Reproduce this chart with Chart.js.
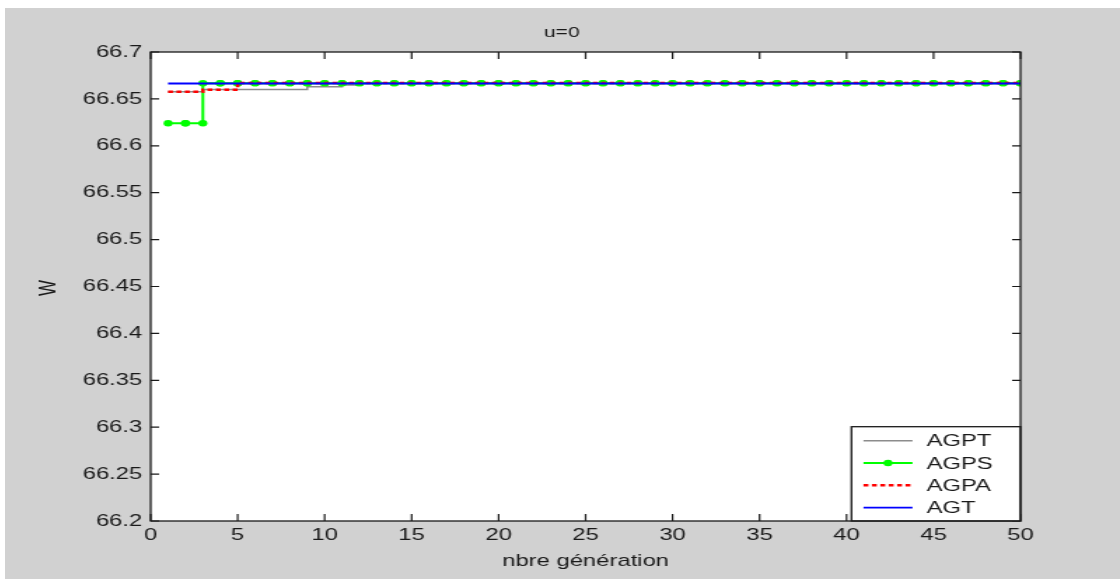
<!DOCTYPE html>
<html>
<head>
<meta charset="utf-8">
<title>u=0</title>
<script src="https://cdn.jsdelivr.net/npm/chart.js@4"></script>
<style>
  body { margin: 0; background: #fff; }
  #frame { position: absolute; left: 5px; top: 8px; width: 1115px; height: 571px; background: #d1d1d1; overflow: hidden; }
  /* the figure is drawn narrow and stretched sideways, like the exported bitmap */
  #stretch { width: 796px; height: 571px; transform: scaleX(1.4007); transform-origin: 0 0; }
</style>
</head>
<body>
<div id="frame"><div id="stretch"><canvas id="wChart"></canvas></div></div>
<script>
// generations 1..50
const generations = [1, 2, 3, 4, 5, 6, 7, 8, 9, 10, 11, 12, 13, 14, 15, 16, 17, 18, 19, 20,
  21, 22, 23, 24, 25, 26, 27, 28, 29, 30, 31, 32, 33, 34, 35, 36, 37, 38, 39, 40,
  41, 42, 43, 44, 45, 46, 47, 48, 49, 50];

// best W per generation for each algorithm
const agpt = [66.6577, 66.6577, 66.6600, 66.6600, 66.6600, 66.6600, 66.6600, 66.6600, 66.6630, 66.6630,
  66.6648, 66.6666, 66.6666, 66.6666, 66.6666, 66.6666, 66.6666, 66.6666, 66.6666, 66.6666,
  66.6666, 66.6666, 66.6666, 66.6666, 66.6666, 66.6666, 66.6666, 66.6666, 66.6666, 66.6666,
  66.6666, 66.6666, 66.6666, 66.6666, 66.6666, 66.6666, 66.6666, 66.6666, 66.6666, 66.6666,
  66.6666, 66.6666, 66.6666, 66.6666, 66.6666, 66.6666, 66.6666, 66.6666, 66.6666, 66.6666];
const agps = [66.6240, 66.6240, 66.6667, 66.6667, 66.6668, 66.6668, 66.6668, 66.6668, 66.6668, 66.6668,
  66.6668, 66.6668, 66.6668, 66.6668, 66.6668, 66.6668, 66.6668, 66.6668, 66.6668, 66.6668,
  66.6668, 66.6668, 66.6668, 66.6668, 66.6668, 66.6668, 66.6668, 66.6668, 66.6668, 66.6668,
  66.6668, 66.6668, 66.6668, 66.6668, 66.6668, 66.6668, 66.6668, 66.6668, 66.6668, 66.6668,
  66.6668, 66.6668, 66.6668, 66.6668, 66.6668, 66.6668, 66.6668, 66.6668, 66.6668, 66.6668];
const agpa = [66.6577, 66.6577, 66.6597, 66.6597, 66.6670, 66.6670, 66.6670, 66.6670, 66.6670, 66.6670,
  66.6670, 66.6670, 66.6670, 66.6670, 66.6670, 66.6670, 66.6670, 66.6670, 66.6670, 66.6670,
  66.6670, 66.6670, 66.6670, 66.6670, 66.6670, 66.6670, 66.6670, 66.6670, 66.6670, 66.6670,
  66.6670, 66.6670, 66.6670, 66.6670, 66.6670, 66.6670, 66.6670, 66.6670, 66.6670, 66.6670,
  66.6670, 66.6670, 66.6670, 66.6670, 66.6670, 66.6670, 66.6670, 66.6670, 66.6670, 66.6670];
const agt = [66.6664, 66.6664, 66.6664, 66.6664, 66.6664, 66.6664, 66.6664, 66.6664, 66.6664, 66.6664,
  66.6664, 66.6664, 66.6664, 66.6664, 66.6664, 66.6664, 66.6664, 66.6664, 66.6664, 66.6664,
  66.6664, 66.6664, 66.6664, 66.6664, 66.6664, 66.6664, 66.6664, 66.6664, 66.6664, 66.6664,
  66.6664, 66.6664, 66.6664, 66.6664, 66.6664, 66.6664, 66.6664, 66.6664, 66.6664, 66.6664,
  66.6664, 66.6664, 66.6664, 66.6664, 66.6664, 66.6664, 66.6664, 66.6664, 66.6664, 66.6664];

const xTicks = [0, 5, 10, 15, 20, 25, 30, 35, 40, 45, 50];
const yTicks = [66.2, 66.25, 66.3, 66.35, 66.4, 66.45, 66.5, 66.55, 66.6, 66.65, 66.7];

const FONT = "'Liberation Sans', Arial, sans-serif";
const INK = "#1a1a1a";

// stairs(): every corner becomes a vertex, so markers sit on the corners too
function stairs(xs, ys) {
  const pts = [{ x: xs[0], y: ys[0] }];
  for (let i = 1; i < xs.length; i++) {
    pts.push({ x: xs[i], y: ys[i - 1] });
    pts.push({ x: xs[i], y: ys[i] });
  }
  return pts;
}

// white axes, inward ticks, boxed frame, titles and legend in the corner
const figurePlugin = {
  id: "figure",
  beforeDatasetsDraw(chart) {
    const { ctx, chartArea: a } = chart;
    ctx.save();
    ctx.fillStyle = "#fff";
    ctx.fillRect(a.left, a.top, a.right - a.left, a.bottom - a.top);
    ctx.restore();
  },
  afterDraw(chart) {
    const { ctx, chartArea: a, scales } = chart;
    ctx.save();

    // ticks
    ctx.strokeStyle = INK;
    ctx.lineWidth = 1.2;
    ctx.beginPath();
    xTicks.forEach(v => {
      const px = scales.x.getPixelForValue(v);
      ctx.moveTo(px, a.bottom); ctx.lineTo(px, a.bottom - 7);
      ctx.moveTo(px, a.top); ctx.lineTo(px, a.top + 7);
    });
    yTicks.forEach(v => {
      const py = scales.y.getPixelForValue(v);
      ctx.moveTo(a.left, py); ctx.lineTo(a.left + 6, py);
      ctx.moveTo(a.right, py); ctx.lineTo(a.right - 6, py);
    });
    ctx.stroke();

    // legend box
    const lx = 604.3, ly = 418.7;
    ctx.fillStyle = "#fff";
    ctx.fillRect(lx, ly, a.right - lx, a.bottom - ly);
    ctx.strokeStyle = INK;
    ctx.lineWidth = 1.3;
    ctx.strokeRect(lx, ly, a.right - lx, a.bottom - ly);

    ctx.font = "17px " + FONT;
    ctx.textBaseline = "middle";
    chart.data.datasets.forEach((ds, i) => {
      const y = 432.7 + i * 22.3;
      ctx.save();
      ctx.strokeStyle = ds.borderColor;
      ctx.lineWidth = ds.borderWidth;
      ctx.setLineDash(ds.borderDash || []);
      ctx.beginPath();
      ctx.moveTo(612.9, y); ctx.lineTo(647.9, y);
      ctx.stroke();
      if (ds.pointRadius > 0) {
        ctx.fillStyle = ds.pointBackgroundColor;
        ctx.beginPath();
        ctx.arc(630.4, y, ds.pointRadius, 0, Math.PI * 2);
        ctx.fill();
      }
      ctx.restore();
      ctx.fillStyle = INK;
      ctx.fillText(ds.label, 657.9, y + 1);
    });

    // frame
    ctx.strokeStyle = INK;
    ctx.lineWidth = 1.3;
    ctx.strokeRect(a.left, a.top, a.right - a.left, a.bottom - a.top);

    // titles
    ctx.fillStyle = INK;
    ctx.textBaseline = "alphabetic";
    ctx.textAlign = "center";
    ctx.font = "15px " + FONT;
    ctx.fillText("u=0", (a.left + a.right) / 2 - 17, 28.5);
    ctx.font = "17px " + FONT;
    ctx.fillText("nbre génération", (a.left + a.right) / 2, 558);
    ctx.translate(36.4, (a.top + a.bottom) / 2 + 1.5);
    ctx.rotate(-Math.PI / 2);
    ctx.fillText("W", 0, 0);
    ctx.restore();
  }
};

const ctx = document.getElementById("wChart").getContext("2d");
new Chart(ctx, {
  type: "line",
  data: {
    datasets: [
      {
        label: "AGPT",
        data: stairs(generations, agpt),
        borderColor: "#8c8c8c",
        borderWidth: 1.5,
        pointRadius: 0,
        order: 3
      },
      {
        label: "AGPS",
        data: stairs(generations, agps),
        borderColor: "#00ff00",
        borderWidth: 2,
        pointRadius: 3.2,
        pointBorderWidth: 0,
        pointBackgroundColor: "#00ff00",
        order: 2
      },
      {
        label: "AGPA",
        data: stairs(generations, agpa),
        borderColor: "#ff0000",
        borderWidth: 2.5,
        borderDash: [3.5, 2.5],
        pointRadius: 0,
        order: 1
      },
      {
        label: "AGT",
        data: stairs(generations, agt),
        borderColor: "#0000ff",
        borderWidth: 1.8,
        pointRadius: 0,
        order: 0
      }
    ]
  },
  options: {
    responsive: true,
    maintainAspectRatio: false,
    animation: false,
    layout: { padding: { top: 44, right: 71, left: 0, bottom: 0 } },
    plugins: {
      legend: { display: false },
      tooltip: { enabled: false }
    },
    scales: {
      x: {
        type: "linear",
        min: 0,
        max: 50,
        grid: { display: false, drawTicks: false },
        border: { display: false },
        afterBuildTicks: s => { s.ticks = xTicks.map(v => ({ value: v })); },
        afterFit: s => { s.height = 58; },
        ticks: {
          color: INK,
          font: { family: FONT, size: 17 },
          padding: 4,
          maxRotation: 0,
          autoSkip: false
        }
      },
      y: {
        min: 66.2,
        max: 66.7,
        grid: { display: false, drawTicks: false },
        border: { display: false },
        afterBuildTicks: s => { s.ticks = yTicks.map(v => ({ value: v })); },
        afterFit: s => { s.width = 104; },
        ticks: {
          color: INK,
          font: { family: FONT, size: 17 },
          padding: 6,
          autoSkip: false,
          callback: v => String(v)
        }
      }
    }
  },
  plugins: [figurePlugin]
});
</script>
</body>
</html>
